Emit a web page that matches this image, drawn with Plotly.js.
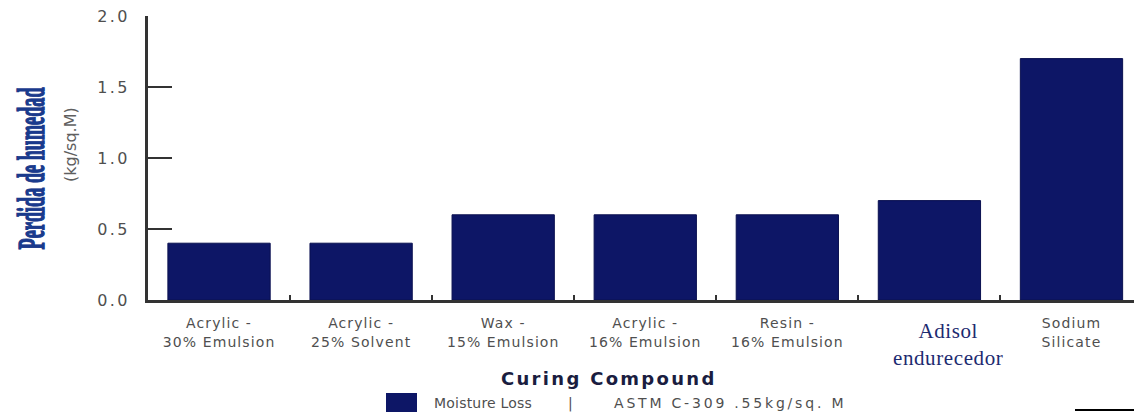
<!DOCTYPE html>
<html>
<head>
<meta charset="utf-8">
<script src="https://cdn.plot.ly/plotly-3.0.1.min.js"></script>
<style>
  html, body { margin: 0; padding: 0; background: #fff; }
  #chart { width: 1134px; height: 413px; }
  .xtick text { letter-spacing: 1.1px; }
  .ytick text { letter-spacing: 2.4px; }
</style>
</head>
<body>
<div id="chart"></div>
<script>
// ---- data ----
const categories = [
  "Acrylic - 30% Emulsion",
  "Acrylic - 25% Solvent",
  "Wax - 15% Emulsion",
  "Acrylic - 16% Emulsion",
  "Resin - 16% Emulsion",
  "Adisol endurecedor",
  "Sodium Silicate"
];
const moistureLoss = [0.4, 0.4, 0.6, 0.6, 0.6, 0.7, 1.7];
const tickLabels = [
  "Acrylic -<br>30% Emulsion",
  "Acrylic -<br>25% Solvent",
  "Wax -<br>15% Emulsion",
  "Acrylic -<br>16% Emulsion",
  "Resin -<br>16% Emulsion",
  "",
  "Sodium<br>Silicate"
];
const highlightLabel = "Adisol<br>endurecedor";
const yTickVals = [0, 0.5, 1.0, 1.5, 2.0];
const yTitle = "Perdida de humedad";
const yUnit = "(kg/sq.M)";
const xTitle = "Curing Compound";
const seriesName = "Moisture Loss";
const seriesNote = "ASTM C-309 .55kg/sq. M";

const gray = "#4f4f4f";
const navy = "#0d1666";

const trace = {
  type: "bar",
  x: categories,
  y: moistureLoss,
  name: seriesName,
  marker: { color: navy, line: { color: "#0a1050", width: 1 } },
  showlegend: false,
  hoverinfo: "x+y"
};

const layout = {
  width: 1134,
  height: 413,
  margin: { l: 148, r: 0, t: 16, b: 113 },
  paper_bgcolor: "#ffffff",
  plot_bgcolor: "#ffffff",
  bargap: 0.28,
  font: { family: "DejaVu Sans, Arial, sans-serif", color: gray },
  xaxis: {
    type: "category",
    range: [-0.5, 6.44],
    tickmode: "array",
    tickvals: categories,
    ticktext: tickLabels,
    tickson: "boundaries",
    ticks: "inside",
    ticklen: 5,
    tickwidth: 2,
    tickcolor: "#333",
    showline: true,
    linecolor: "#333",
    linewidth: 2.5,
    showgrid: false,
    zeroline: false,
    tickfont: { family: "DejaVu Sans, Arial, sans-serif", size: 14, color: gray },
    ticklabelstandoff: 9
  },
  yaxis: {
    range: [0, 2],
    tickmode: "array",
    tickvals: yTickVals,
    tickformat: ".1f",
    ticks: "inside",
    ticklen: 24,
    tickwidth: 2,
    tickcolor: "#333",
    showline: true,
    linecolor: "#333",
    linewidth: 3,
    showgrid: false,
    zeroline: false,
    tickfont: { family: "DejaVu Sans, Arial, sans-serif", size: 16, color: gray },
    ticklabelstandoff: 12
  },
  annotations: [
    {
      text: yTitle,
      xref: "paper", yref: "paper",
      x: (31 - 148) / 986, y: (300 - 168) / 284,
      xanchor: "center", yanchor: "middle",
      textangle: -90,
      showarrow: false,
      font: { family: "Liberation Serif, Times New Roman, serif", size: 26, color: "#1a3a8c", weight: 700 }
    },
    {
      text: yUnit,
      xref: "paper", yref: "paper",
      x: (70 - 148) / 986, y: (300 - 145) / 284,
      xanchor: "center", yanchor: "middle",
      textangle: -90,
      showarrow: false,
      font: { family: "DejaVu Sans, Arial, sans-serif", size: 16, color: "#5f5f5f" }
    },
    {
      text: '<span style="letter-spacing:0.6px">' + highlightLabel + '</span>',
      xref: "x", yref: "paper",
      x: categories[5], y: -44 / 284,
      xshift: 19,
      xanchor: "center", yanchor: "middle",
      showarrow: false,
      font: { family: "Liberation Serif, Times New Roman, serif", size: 21, color: "#1c2a70" }
    },
    {
      text: '<span style="letter-spacing:2.3px">' + xTitle + '</span>',
      xref: "paper", yref: "paper",
      x: (609 - 148) / 986, y: -78 / 284,
      xanchor: "center", yanchor: "middle",
      showarrow: false,
      font: { family: "DejaVu Sans, Arial, sans-serif", size: 18, color: "#1a1d40", weight: 700 }
    },
    {
      text: '<span style="letter-spacing:0.2px">' + seriesName + '</span>',
      xref: "paper", yref: "paper",
      x: (432 - 148) / 986, y: -103 / 284,
      xanchor: "left", yanchor: "middle",
      showarrow: false,
      font: { family: "DejaVu Sans, Arial, sans-serif", size: 14, color: gray }
    },
    {
      text: "|",
      xref: "paper", yref: "paper",
      x: (570 - 148) / 986, y: -103 / 284,
      xanchor: "center", yanchor: "middle",
      showarrow: false,
      font: { family: "DejaVu Sans, Arial, sans-serif", size: 14, color: gray }
    },
    {
      text: '<span style="letter-spacing:2.8px">' + seriesNote + '</span>',
      xref: "paper", yref: "paper",
      x: (612 - 148) / 986, y: -103 / 284,
      xanchor: "left", yanchor: "middle",
      showarrow: false,
      font: { family: "DejaVu Sans, Arial, sans-serif", size: 14, color: gray }
    }
  ],
  shapes: [
    {
      type: "rect", xref: "paper", yref: "paper",
      x0: (386 - 148) / 986, x1: (417 - 148) / 986,
      y0: -112 / 284, y1: -93 / 284,
      fillcolor: navy, line: { width: 0 }
    },
    {
      type: "line", xref: "paper", yref: "paper",
      x0: (1075 - 148) / 986, x1: 1,
      y0: -110 / 284, y1: -110 / 284,
      line: { color: "#000", width: 2 }
    }
  ]
};

Plotly.newPlot("chart", [trace], layout, { displayModeBar: false, staticPlot: true }).then(function () {
  // condense the heavy serif y title to the narrow, tall look of the original
  document.querySelectorAll(".annotation-text").forEach(function (t) {
    if (t.textContent === yTitle) {
      t.setAttribute("textLength", "162");
      t.setAttribute("lengthAdjust", "spacingAndGlyphs");
      t.style.stroke = "#1a3a8c";
      t.style.strokeWidth = "1px";
      t.style.transformBox = "fill-box";
      t.style.transformOrigin = "center";
      t.style.transform = "scaleY(1.45)";
    }
  });
});
</script>
</body>
</html>
